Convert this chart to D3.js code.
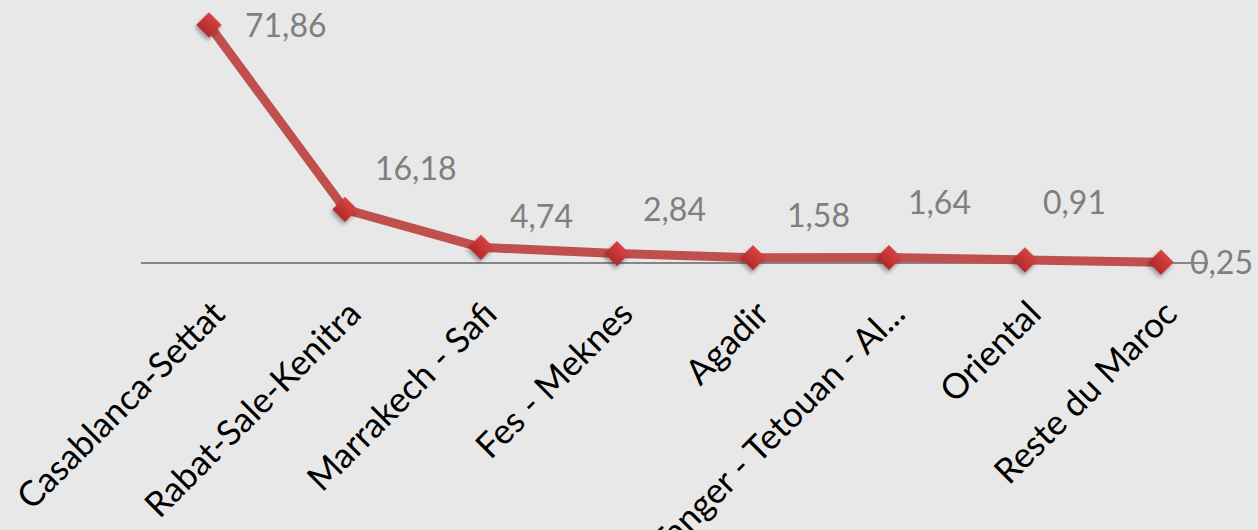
<!DOCTYPE html>
<html lang="fr">
<head>
<meta charset="utf-8">
<title>Répartition par région</title>
<script src="https://d3js.org/d3.v7.min.js"></script>
<style>
  html, body { margin: 0; padding: 0; background: #e8e8e8; }
  #chart { width: 1258px; height: 530px; overflow: hidden; }
</style>
</head>
<body>
<div id="chart"></div>
<script>
// data
var regions = ["Casablanca-Settat", "Rabat-Sale-Kenitra", "Marrakech - Safi", "Fes - Meknes",
               "Agadir", "Tanger - Tetouan - Al...", "Oriental", "Reste du Maroc"];
var values = [71.86, 16.18, 4.74, 2.84, 1.58, 1.64, 0.91, 0.25];
var valueLabels = ["71,86", "16,18", "4,74", "2,84", "1,58", "1,64", "0,91", "0,25"];

// where each value label sits relative to its point (dx, dy to baseline start)
var labelOffsets = [[36, 12], [30, -29], [29, -19], [26, -33], [34, -31], [19, -44], [18, -46], [29, 12]];

var W = 1258, H = 530;

var svg = d3.select("#chart").append("svg")
    .attr("width", W)
    .attr("height", H);

svg.append("rect").attr("width", W).attr("height", H).attr("fill", "#e8e8e8");

var defs = svg.append("defs");
var shadow = defs.append("filter").attr("id", "shadow")
    .attr("x", "-50%").attr("y", "-50%").attr("width", "200%").attr("height", "200%");
shadow.append("feDropShadow")
    .attr("dx", 1).attr("dy", 3).attr("stdDeviation", 2)
    .attr("flood-color", "#000").attr("flood-opacity", 0.35);

var grad = defs.append("linearGradient").attr("id", "mk")
    .attr("x1", 0).attr("y1", 0).attr("x2", 0).attr("y2", 1);
grad.append("stop").attr("offset", "0%").attr("stop-color", "#d64343");
grad.append("stop").attr("offset", "100%").attr("stop-color", "#b12a2a");

var x = d3.scalePoint()
    .domain(regions)
    .range([141, 1229])
    .padding(0.5);

var y = d3.scaleLinear()
    .domain([0, 80])
    .range([263, -2]);

var data = regions.map(function (r, i) {
    return { region: r, value: values[i], label: valueLabels[i], off: labelOffsets[i] };
});

// category axis line
svg.append("line")
    .attr("x1", 141).attr("x2", 1208)
    .attr("y1", y(0)).attr("y2", y(0))
    .attr("stroke", "#868686")
    .attr("stroke-width", 2);

// line
var line = d3.line()
    .x(function (d) { return x(d.region); })
    .y(function (d) { return y(d.value); });

svg.append("path")
    .datum(data)
    .attr("d", line)
    .attr("fill", "none")
    .attr("stroke", "#c0504d")
    .attr("stroke-width", 9)
    .attr("stroke-linejoin", "round");

// diamond markers
svg.selectAll(".mark")
    .data(data)
    .enter()
    .append("path")
    .attr("class", "mark")
    .attr("d", d3.symbol(d3.symbolSquare, 320))
    .attr("transform", function (d) { return "translate(" + x(d.region) + "," + y(d.value) + ") rotate(45)"; })
    .attr("fill", "url(#mk)")
    .attr("filter", "url(#shadow)");

// value labels
svg.selectAll(".val")
    .data(data)
    .enter()
    .append("text")
    .attr("class", "val")
    .attr("x", function (d) { return x(d.region) + d.off[0]; })
    .attr("y", function (d) { return y(d.value) + d.off[1]; })
    .attr("font-family", "Lato, 'Open Sans', sans-serif")
    .attr("font-size", "32px")
    .attr("fill", "#7f7f7f")
    .text(function (d) { return d.label; });

// category labels, rotated
svg.selectAll(".cat")
    .data(regions)
    .enter()
    .append("text")
    .attr("class", "cat")
    .attr("transform", function (d) { return "translate(" + (x(d) + 18) + ",316) rotate(-45)"; })
    .attr("text-anchor", "end")
    .attr("font-family", "Lato, 'Open Sans', sans-serif")
    .attr("font-size", "35px")
    .attr("fill", "#000")
    .text(function (d) { return d; });
</script>
</body>
</html>
